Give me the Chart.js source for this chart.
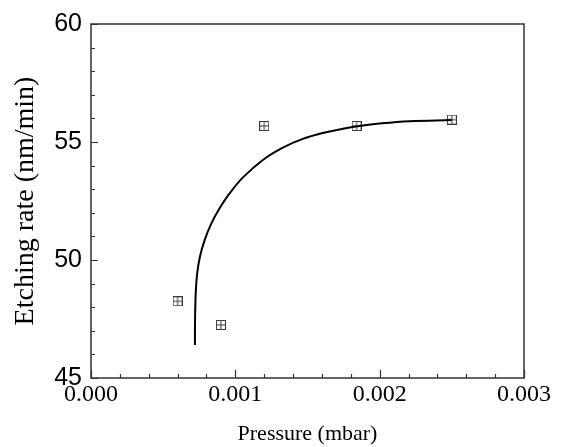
<!DOCTYPE html>
<html>
<head>
<meta charset="utf-8">
<script src="https://cdn.jsdelivr.net/npm/chart.js@4/dist/chart.umd.min.js"></script>
<style>
html,body{margin:0;padding:0;background:#fff;}
canvas{display:block;}
</style>
</head>
<body>
<canvas id="c" width="561" height="447"></canvas>
<script>
// Measured points
const pressure = [0.0006, 0.0009, 0.0012, 0.00184, 0.0025];
const etchRate = [48.25, 47.25, 55.68, 55.68, 55.95];
// Fitted curve
const fitPressure = [0.00072, 0.000721, 0.000725, 0.000735, 0.000755, 0.000788, 0.000834, 0.000892, 0.000955, 0.001053, 0.001191, 0.001329, 0.001467, 0.001605, 0.001744, 0.001847, 0.001997, 0.002205, 0.0025];
const fitRate = [46.4, 47.5, 48.5, 49.4, 50.15, 50.85, 51.55, 52.2, 52.78, 53.5, 54.24, 54.76, 55.13, 55.38, 55.56, 55.67, 55.78, 55.88, 55.93];
// Axis ticks
const xTicks = [0.000, 0.001, 0.002, 0.003];
const yTicks = [45, 50, 55, 60];
const xTitle = 'Pressure (mbar)';
const yTitle = 'Etching rate (nm/min)';

function crossBox() {
  const c = document.createElement('canvas');
  c.width = 10; c.height = 10;
  const g = c.getContext('2d');
  g.strokeStyle = '#3a3a3a';
  g.lineWidth = 1;
  g.strokeRect(0.5, 0.5, 9, 9);
  g.beginPath();
  g.moveTo(5, 0.5); g.lineTo(5, 9.5);
  g.moveTo(0.5, 5); g.lineTo(9.5, 5);
  g.stroke();
  return c;
}
const marker = crossBox();

const frame = {
  id: 'frame',
  afterDraw(chart) {
    const {ctx, chartArea: a, scales} = chart;
    const xs = scales.x, ys = scales.y;
    ctx.save();
    ctx.strokeStyle = '#333';
    ctx.lineWidth = 1.5;
    ctx.strokeRect(a.left, a.top, a.right - a.left, a.bottom - a.top);
    ctx.lineWidth = 1.2;
    ctx.beginPath();
    for (let i = 0; i <= 15; i++) {
      const v = i * 0.0002;
      const px = Math.round(xs.getPixelForValue(v)) + 0.5;
      const len = (i % 5 === 0) ? 8 : 4;
      ctx.moveTo(px, a.bottom); ctx.lineTo(px, a.bottom - len);
    }
    for (let v = 45; v <= 60; v++) {
      const py = Math.round(ys.getPixelForValue(v)) + 0.5;
      const len = (v % 5 === 0) ? 7 : 4;
      ctx.moveTo(a.left, py); ctx.lineTo(a.left + len, py);
    }
    ctx.stroke();
    ctx.restore();
  }
};

new Chart(document.getElementById('c'), {
  type: 'scatter',
  data: {
    datasets: [
      {
        data: fitPressure.map((x, i) => ({x, y: fitRate[i]})),
        showLine: true,
        borderColor: '#000',
        borderWidth: 2,
        pointRadius: 0,
        tension: 0.4,
        fill: false
      },
      {
        data: pressure.map((x, i) => ({x, y: etchRate[i]})),
        showLine: false,
        pointStyle: marker,
        pointRadius: 5
      }
    ]
  },
  plugins: [frame],
  options: {
    responsive: false,
    devicePixelRatio: 1,
    animation: false,
    layout: {padding: {top: 24, right: 37, left: 0, bottom: 0}},
    plugins: {legend: {display: false}, tooltip: {enabled: false}},
    scales: {
      x: {
        type: 'linear', min: 0, max: 0.003,
        afterBuildTicks: s => { s.ticks = xTicks.map(v => ({value: v})); },
        afterFit: s => { s.height = 69; },
        grid: {display: false, drawTicks: false},
        border: {display: false},
        ticks: {
          padding: 2,
          color: '#000',
          font: {family: '"Liberation Serif", "Times New Roman", serif', size: 24},
          callback: v => v.toFixed(3),
          maxRotation: 0, autoSkip: false
        },
        title: {
          display: true, text: xTitle, color: '#000',
          font: {family: '"Liberation Serif", "Times New Roman", serif', size: 22},
          padding: {top: 4, bottom: 0}
        }
      },
      y: {
        type: 'linear', min: 45, max: 60,
        afterBuildTicks: s => { s.ticks = yTicks.map(v => ({value: v})); },
        afterFit: s => { s.width = 91; },
        grid: {display: false, drawTicks: false},
        border: {display: false},
        ticks: {
          padding: 9,
          color: '#000',
          font: {family: '"Liberation Sans", Arial, sans-serif', size: 25},
          autoSkip: false
        },
        title: {
          display: true, text: yTitle, color: '#000',
          font: {family: '"Liberation Serif", "Times New Roman", serif', size: 28},
          padding: {top: 9, bottom: 0}
        }
      }
    }
  }
});
</script>
</body>
</html>
